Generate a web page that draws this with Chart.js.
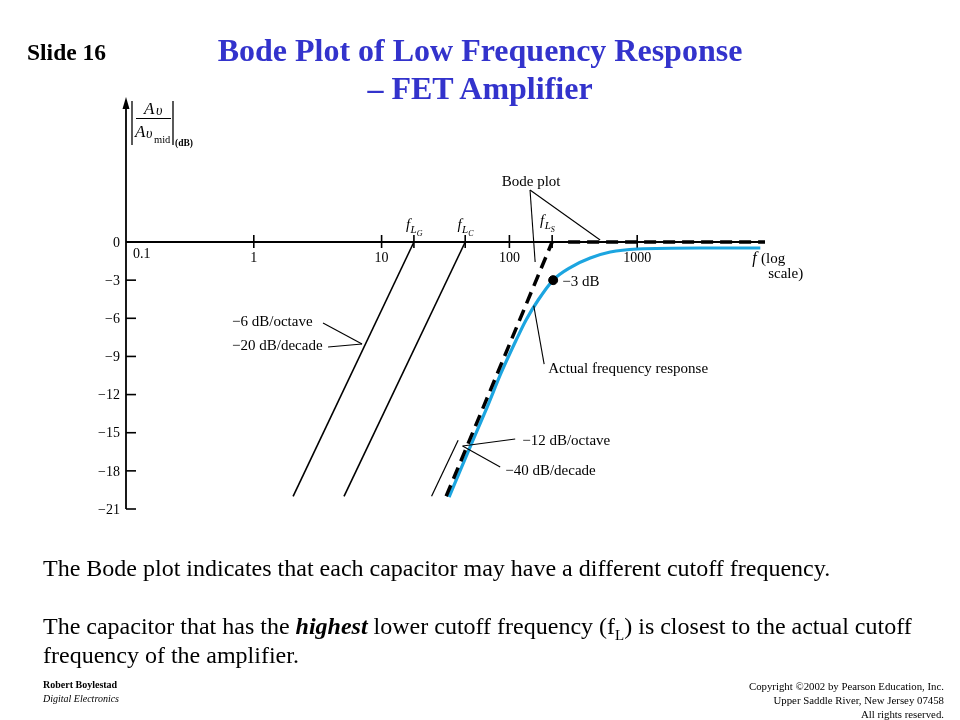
<!DOCTYPE html>
<html><head><meta charset="utf-8">
<script src="https://cdn.jsdelivr.net/npm/chart.js@4/dist/chart.umd.min.js"></script>
<style>
html,body{margin:0;padding:0;background:#fff;}
#wrap{position:relative;width:960px;height:720px;overflow:hidden;font-family:'Liberation Serif','Times New Roman',serif;}
#wrap canvas{position:absolute;left:0;top:0;}
.t{position:absolute;white-space:nowrap;color:#000;}
</style></head><body>
<div id="wrap">
<canvas id="c" width="960" height="720"></canvas>
<div class="t" style="left:27px;top:38px;font-size:23.5px;font-weight:bold;line-height:28px;">Slide 16</div>
<div class="t" style="left:0;width:960px;top:31px;text-align:center;font-size:32px;font-weight:bold;color:#3333cc;line-height:38px;">Bode Plot of Low Frequency Response<br>– FET Amplifier</div>
<div class="t" style="left:43px;top:554px;font-size:24px;line-height:29px;">The Bode plot indicates that each capacitor may have a different cutoff frequency.<br><br>The capacitor that has the <b><i>highest</i></b> lower cutoff frequency (f<sub style="font-size:15px;line-height:0;">L</sub>) is closest to the actual cutoff<br>frequency of the amplifier.</div>
<div class="t" style="left:43px;top:678px;font-size:10px;line-height:14px;"><b>Robert Boylestad</b><br><i>Digital Electronics</i></div>
<div class="t" style="right:16px;top:679px;font-size:10.8px;line-height:14px;text-align:right;">Copyright ©2002 by Pearson Education, Inc.<br>Upper Saddle River, New Jersey 07458<br>All rights reserved.</div>
</div>
<script>
// ---- data ----
const freqTicks = [0.1, 1, 10, 100, 1000];
const freqTickLabels = ['0.1', '1', '10', '100', '1000'];
const dbTicks = [0, -3, -6, -9, -12, -15, -18, -21];
const dbTickLabels = ['0', '−3', '−6', '−9', '−12', '−15', '−18', '−21'];
const cutoffSubs = ['G', 'C', 'S'];
const cutoffFreqs = [17.9, 45.1, 216];            // f_LG, f_LC, f_LS (0 dB break points)
const asymptoteEndFreqs = [2.03, 5.08, 32];        // where each asymptote line ends
const asymptoteEndDb = [-20, -20, -20];
const bodeFlatFreqs = [288, 10000];
const bodeFlatDb = [0, 0];
const extraLineFreqs = [24.6, 39.7];
const extraLineDb = [-20, -15.6];
const actualFreqs = [33.7, 40.4, 52.0, 67.0, 86.1, 113, 135, 168, 220, 304, 429, 615, 1000, 3112, 9190];
const actualDb = [-20.06, -18.17, -15.57, -12.98, -10.3, -7.71, -6.13, -4.56, -2.99, -1.97, -1.26, -0.79, -0.55, -0.47, -0.47];
const cornerFreq = [220];
const cornerDb = [-3];

const pts = (xs, ys) => xs.map((x, i) => ({x: x, y: ys[i]}));

const datasets = [];
cutoffFreqs.forEach((f, i) => {
  const isS = i === 2;
  datasets.push({
    data: [{x: asymptoteEndFreqs[i], y: asymptoteEndDb[i]}, {x: f, y: 0}],
    borderColor: '#000', borderWidth: isS ? 3.5 : 1.6,
    borderDash: isS ? [12, 7] : [], pointRadius: 0, showLine: true, clip: false
  });
});
datasets.push({data: pts(bodeFlatFreqs, bodeFlatDb), borderColor: '#000', borderWidth: 3.5, borderDash: [12, 7], pointRadius: 0, showLine: true, clip: false});
datasets.push({data: pts(extraLineFreqs, extraLineDb), borderColor: '#000', borderWidth: 1.2, pointRadius: 0, showLine: true, clip: false});
datasets.push({data: pts(cornerFreq, cornerDb), backgroundColor: '#000', borderColor: '#000', pointRadius: 4.5, showLine: false, clip: false});
datasets.push({data: pts(actualFreqs, actualDb), borderColor: '#1ca5e0', borderWidth: 3.2, pointRadius: 0, showLine: true, cubicInterpolationMode: 'monotone', clip: false});

const notes = [
  {text: 'Bode plot', f: 148, db: 4.4, align: 'center'},
  {text: '−3 dB', f: 259, db: -3.46},
  {text: '−6 dB/octave', f: 0.676, db: -6.61},
  {text: '−20 dB/decade', f: 0.676, db: -8.49},
  {text: 'Actual frequency response', f: 201, db: -10.3},
  {text: '−12 dB/octave', f: 126, db: -15.97},
  {text: '−40 dB/decade', f: 92.7, db: -18.33},
  {text: 'f', f: 7943, db: -1.65, italic: true},
  {text: ' (log', f: 8700, db: -1.65},
  {text: 'scale)', f: 10590, db: -2.83}
];
const pointers = [
  [145, 4.09, 159, -1.57],
  [145, 4.09, 513, 0.16],
  [3.48, -6.37, 7.03, -8.02],
  [3.81, -8.26, 7.03, -8.02],
  [155, -5.0, 187, -9.6],
  [111, -15.49, 43, -16.05],
  [84.7, -17.7, 43, -16.05]
];

const SERIF = '"Liberation Serif","Times New Roman",serif';

const decor = {
  id: 'decor',
  beforeDatasetsDraw(chart) {
    const ctx = chart.ctx, xs = chart.scales.x, ys = chart.scales.y;
    const x0 = xs.left, y0 = ys.getPixelForValue(0);
    const yBot = ys.getPixelForValue(-21), yTop = ys.top;
    ctx.save();
    ctx.strokeStyle = '#000'; ctx.fillStyle = '#000';
    ctx.lineWidth = 1.8;
    ctx.beginPath(); ctx.moveTo(x0, yBot); ctx.lineTo(x0, yTop + 6); ctx.stroke();
    ctx.beginPath(); ctx.moveTo(x0, yTop - 3); ctx.lineTo(x0 - 3.5, yTop + 9); ctx.lineTo(x0 + 3.5, yTop + 9); ctx.closePath(); ctx.fill();
    ctx.beginPath(); ctx.moveTo(x0, y0); ctx.lineTo(xs.right, y0); ctx.stroke();
    ctx.lineWidth = 1.6;
    ctx.font = '14px ' + SERIF; ctx.textAlign = 'right'; ctx.textBaseline = 'middle';
    dbTicks.forEach((v, i) => {
      const py = ys.getPixelForValue(v);
      if (v !== 0) { ctx.beginPath(); ctx.moveTo(x0, py); ctx.lineTo(x0 + 10, py); ctx.stroke(); }
      ctx.fillText(dbTickLabels[i], x0 - 6, py + 1);
    });
    ctx.textAlign = 'center'; ctx.textBaseline = 'middle';
    freqTicks.forEach((v, i) => {
      const px = xs.getPixelForValue(v);
      if (i === 0) { ctx.textAlign = 'left'; ctx.fillText(freqTickLabels[i], px + 7, y0 + 12); ctx.textAlign = 'center'; return; }
      ctx.beginPath(); ctx.moveTo(px, y0 - 7); ctx.lineTo(px, y0 + 6); ctx.stroke();
      ctx.fillText(freqTickLabels[i], px, y0 + 16);
    });
    cutoffFreqs.forEach((f, i) => {
      const px = xs.getPixelForValue(f);
      ctx.beginPath(); ctx.moveTo(px, y0 - 7); ctx.lineTo(px, y0 + 6); ctx.stroke();
      const isS = i === 2;
      drawFL(ctx, px - (isS ? 5 : 0), y0 - (isS ? 17 : 13), cutoffSubs[i]);
    });
    const tx = x0, ty = yTop;
    ctx.lineWidth = 1.3;
    ctx.beginPath(); ctx.moveTo(tx + 6, ty + 1); ctx.lineTo(tx + 6, ty + 45); ctx.stroke();
    ctx.beginPath(); ctx.moveTo(tx + 47, ty + 1); ctx.lineTo(tx + 47, ty + 45); ctx.stroke();
    ctx.lineWidth = 1;
    ctx.beginPath(); ctx.moveTo(tx + 10, ty + 18.5); ctx.lineTo(tx + 45, ty + 18.5); ctx.stroke();
    ctx.textAlign = 'left'; ctx.textBaseline = 'alphabetic';
    ctx.font = 'italic 17px ' + SERIF; ctx.fillText('A', tx + 18, ty + 14);
    ctx.font = 'italic 14px ' + SERIF; ctx.fillText('υ', tx + 30, ty + 15);
    ctx.font = 'italic 17px ' + SERIF; ctx.fillText('A', tx + 9, ty + 37);
    ctx.font = 'italic 14px ' + SERIF; ctx.fillText('υ', tx + 20, ty + 38);
    ctx.font = '10.5px ' + SERIF; ctx.fillText('mid', tx + 28, ty + 43);
    ctx.font = 'bold 9.5px ' + SERIF; ctx.fillText('(dB)', tx + 49, ty + 46);
    ctx.restore();
  },
  afterDatasetsDraw(chart) {
    const ctx = chart.ctx, xs = chart.scales.x, ys = chart.scales.y;
    ctx.save();
    ctx.strokeStyle = '#000'; ctx.fillStyle = '#000'; ctx.lineWidth = 1.1;
    pointers.forEach(p => {
      ctx.beginPath();
      ctx.moveTo(xs.getPixelForValue(p[0]), ys.getPixelForValue(p[1]));
      ctx.lineTo(xs.getPixelForValue(p[2]), ys.getPixelForValue(p[3]));
      ctx.stroke();
    });
    ctx.textBaseline = 'alphabetic';
    notes.forEach(n => {
      ctx.font = (n.italic ? 'italic 16px ' : '15px ') + SERIF;
      ctx.textAlign = n.align || 'left';
      ctx.fillText(n.text, xs.getPixelForValue(n.f), ys.getPixelForValue(n.db));
    });
    ctx.restore();
  }
};

function drawFL(ctx, cx, baseY, sub) {
  ctx.save();
  ctx.textAlign = 'left'; ctx.textBaseline = 'alphabetic'; ctx.fillStyle = '#000';
  ctx.font = 'italic 15px ' + SERIF; const wf = ctx.measureText('f').width;
  ctx.font = 'italic 11px ' + SERIF; const wl = ctx.measureText('L').width;
  ctx.font = 'italic 8px ' + SERIF; const ws = ctx.measureText(sub).width;
  let x = cx - (wf + wl + ws) / 2;
  ctx.font = 'italic 15px ' + SERIF; ctx.fillText('f', x, baseY); x += wf + 0.5;
  ctx.font = 'italic 11px ' + SERIF; ctx.fillText('L', x, baseY + 4); x += wl;
  ctx.font = 'italic 8px ' + SERIF; ctx.fillText(sub, x, baseY + 7);
  ctx.restore();
}

new Chart(document.getElementById('c'), {
  type: 'scatter',
  data: {datasets: datasets},
  options: {
    responsive: false,
    animation: false,
    devicePixelRatio: 1,
    layout: {padding: {left: 126, right: 195, top: 100, bottom: 211}},
    plugins: {legend: {display: false}, tooltip: {enabled: false}},
    scales: {
      x: {type: 'logarithmic', min: 0.1, max: 10000, display: false},
      y: {type: 'linear', min: -21, max: 11.17, display: false}
    }
  },
  plugins: [decor]
});
</script>
</body></html>
